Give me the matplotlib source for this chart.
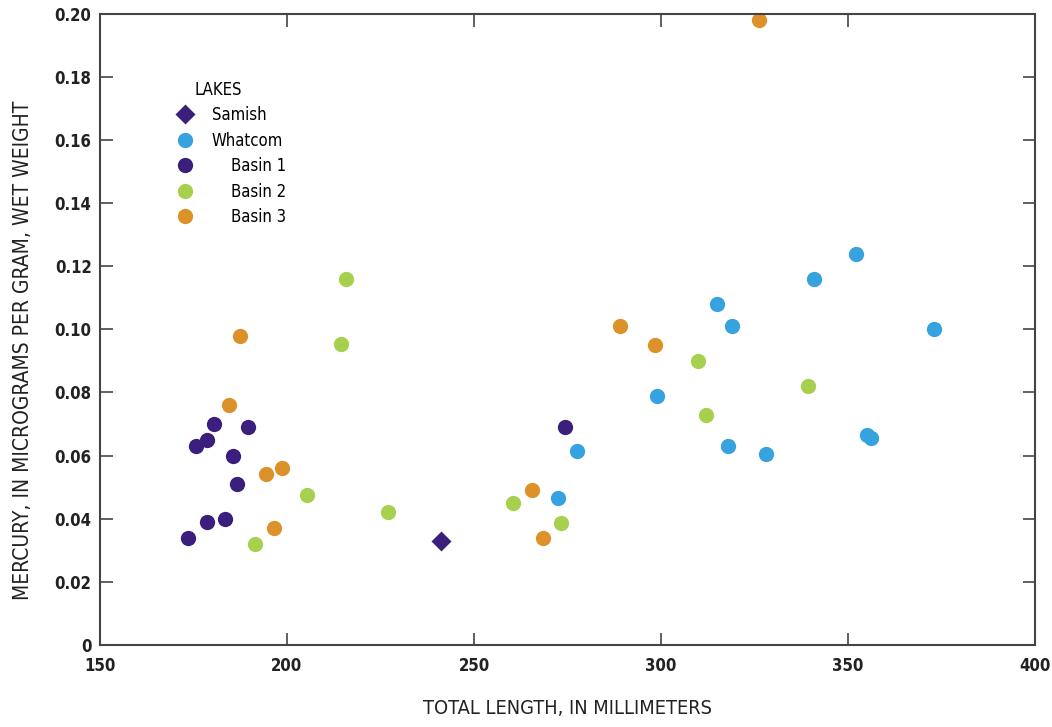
import numpy as np
import matplotlib.pyplot as plt

plt.rcParams['font.family'] = ['DejaVu Sans']
plt.rcParams['font.stretch'] = 'condensed'

# total length (mm) and mercury (ug/g wet weight) by lake
samish_x = [241.2]
samish_y = [0.033]

whatcom_x = [373, 352, 341, 315, 319, 299, 277.5, 272.5, 318, 328, 355, 356]
whatcom_y = [0.100, 0.124, 0.116, 0.108, 0.101, 0.079, 0.0615, 0.0465, 0.063, 0.0605, 0.0665, 0.0655]

basin1_x = [173.5, 178.6, 183.4, 186.6, 185.6, 189.6, 180.5, 178.6, 175.7, 274.3]
basin1_y = [0.034, 0.039, 0.040, 0.051, 0.060, 0.069, 0.070, 0.065, 0.063, 0.069]

basin2_x = [215.8, 214.4, 205.3, 191.4, 227.0, 260.4, 273.3, 310.0, 312.0, 339.3]
basin2_y = [0.116, 0.0955, 0.0475, 0.032, 0.042, 0.045, 0.0385, 0.090, 0.073, 0.082]

basin3_x = [326.2, 187.4, 184.5, 194.4, 198.7, 196.5, 289.0, 298.4, 265.5, 268.4]
basin3_y = [0.198, 0.098, 0.076, 0.054, 0.056, 0.037, 0.101, 0.095, 0.049, 0.034]

purple = '#3b1f7c'
blue = '#36a2df'
green = '#a8d04f'
orange = '#dc9228'

fig = plt.figure(figsize=(10.52, 7.27), dpi=100)
ax = fig.add_axes([0.095, 0.113, 0.889, 0.868])

ax.plot(samish_x, samish_y, 'D', color=purple, ms=10, mec='none', label='Samish')
ax.plot(whatcom_x, whatcom_y, 'o', color=blue, ms=11, mec='none', label='Whatcom')
ax.plot(basin1_x, basin1_y, 'o', color=purple, ms=11, mec='none', label='    Basin 1')
ax.plot(basin2_x, basin2_y, 'o', color=green, ms=11, mec='none', label='    Basin 2')
ax.plot(basin3_x, basin3_y, 'o', color=orange, ms=11, mec='none', label='    Basin 3')

ax.set_xlim(150, 400)
ax.set_ylim(0, 0.20)
ax.set_xticks(np.arange(150, 401, 50))
ax.set_yticks(np.arange(0, 0.201, 0.02))
ax.set_yticklabels(['0'] + ['%.2f' % v for v in np.arange(0.02, 0.201, 0.02)])

ax.tick_params(direction='in', length=9, width=1.2, color='#444444',
               top=True, right=True, labelsize=12, pad=6)
ax.tick_params(axis='x', pad=9)
for lab in ax.get_yticklabels() + ax.get_xticklabels():
    lab.set_fontweight('bold')
    lab.set_color('#222222')
for sp in ax.spines.values():
    sp.set_linewidth(1.5)
    sp.set_color('#444444')

ax.set_xlabel('TOTAL LENGTH, IN MILLIMETERS', fontsize=14.3, labelpad=17, color='#222222')
ax.set_ylabel('MERCURY, IN MICROGRAMS PER GRAM, WET WEIGHT', fontsize=15, color='#222222')
ax.yaxis.set_label_coords(-0.072, 0.467)

leg = ax.legend(loc='upper left', bbox_to_anchor=(0.057, 0.918), frameon=False,
                title='LAKES', fontsize=12, title_fontsize=12, handletextpad=0.6,
                labelspacing=0.45, alignment='left')
leg.get_title().set_position((26, 0))

fig.savefig('out.png', dpi=100)
